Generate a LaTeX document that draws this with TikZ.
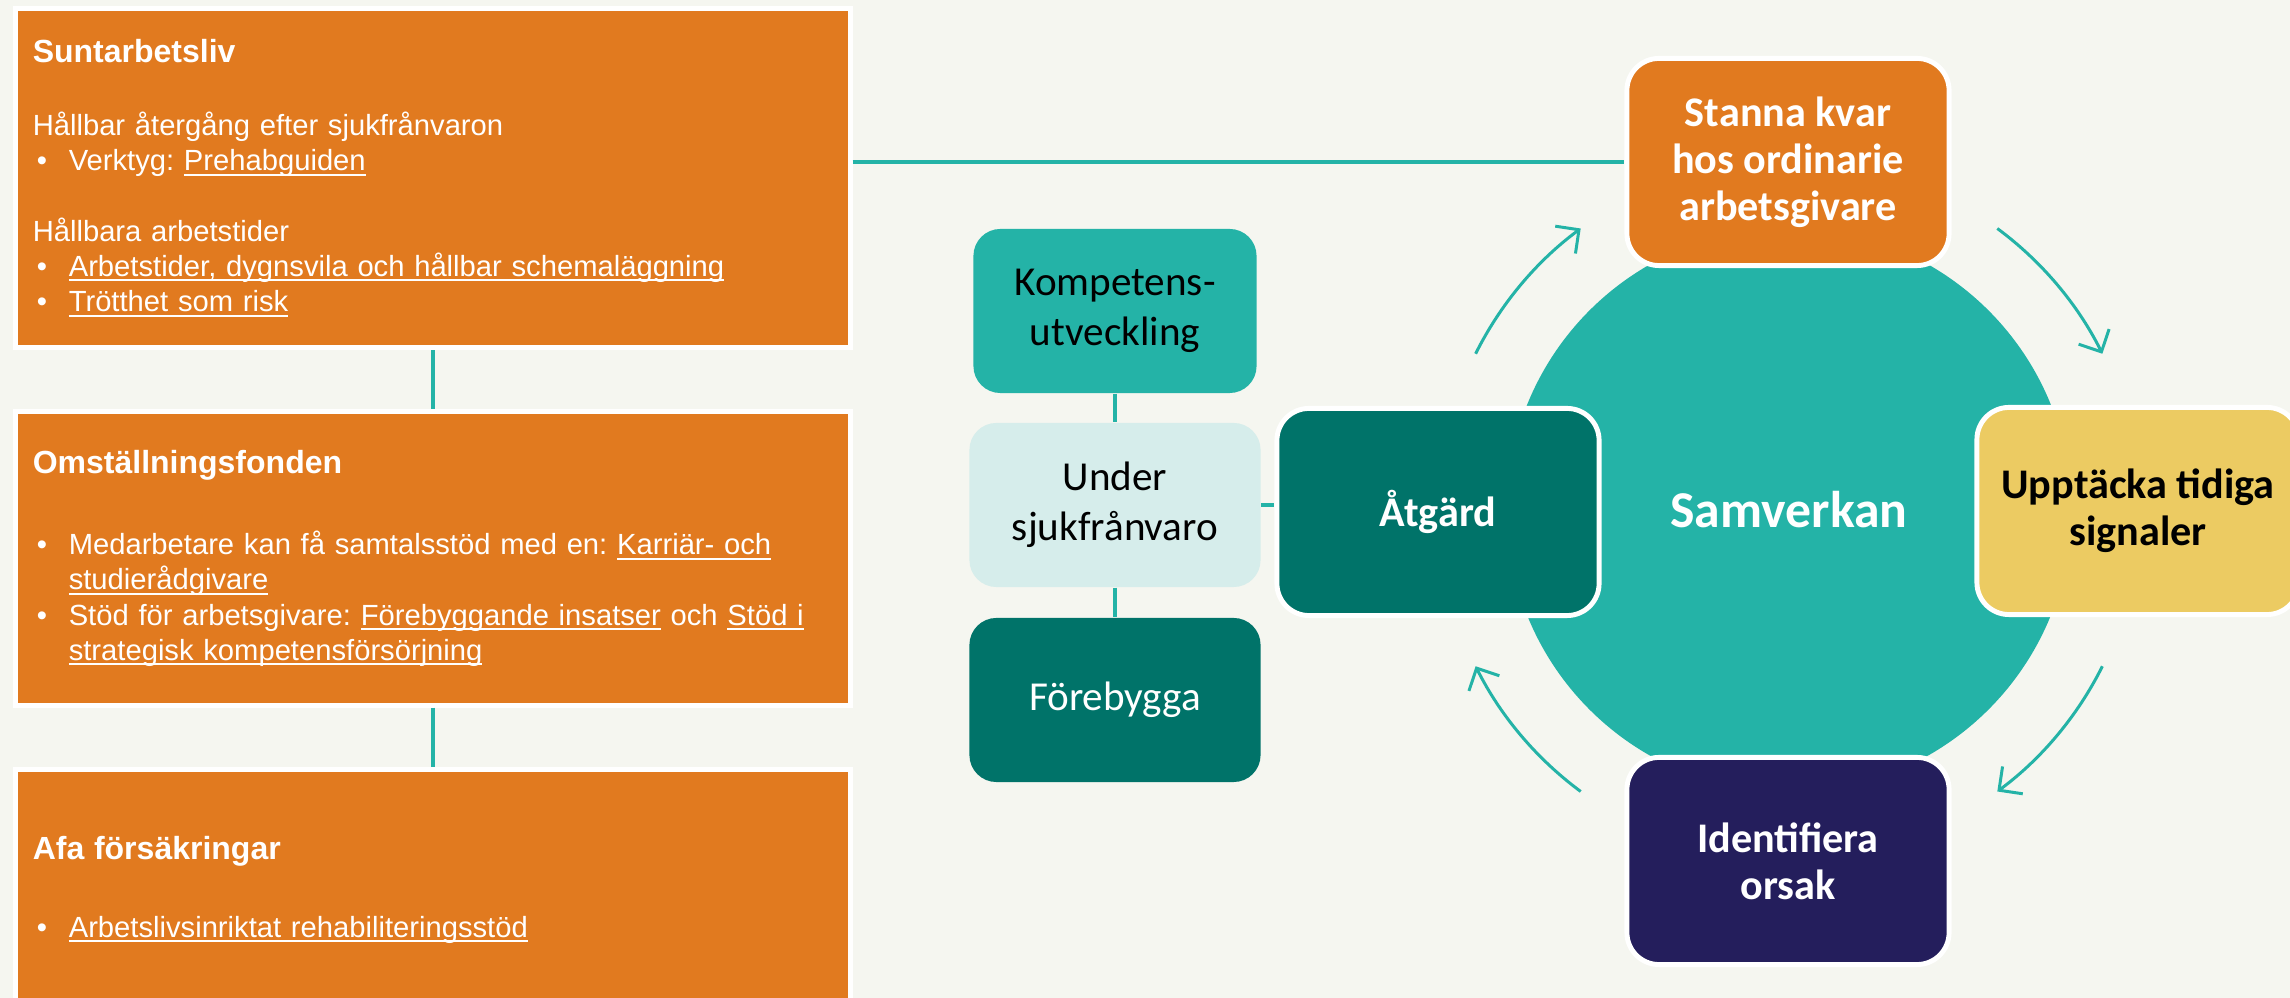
\documentclass[tikz,border=0pt]{standalone}
\usepackage{fontspec}
\setmainfont{Liberation Sans}
\newfontfamily\calibri{Carlito}
\usetikzlibrary{arrows.meta}
\frenchspacing

\definecolor{bgcol}{HTML}{F5F6F0}
\definecolor{boxorange}{HTML}{E17A1F}
\definecolor{circteal}{HTML}{24B3A7}
\definecolor{darkteal}{HTML}{007369}
\definecolor{paleteal}{HTML}{D6EDEB}
\definecolor{signalyellow}{HTML}{ECCB62}
\definecolor{navyblue}{HTML}{241E5C}

% underlined link text
\newcommand{\lnk}[1]{{\setbox0\hbox{#1}\rlap{\rule[-1.4pt]{\wd0}{0.55pt}}\box0}}
\newcommand{\itm}{\hspace*{0.04cm}\makebox[0.32cm][l]{\textbullet}}
\newcommand{\cnt}{\hspace*{0.36cm}}
\newcommand{\hd}[1]{{\fontsize{9.1}{10}\selectfont\bfseries #1}}

\begin{document}
\begin{tikzpicture}[x=0.01cm,y=-0.01cm,
    infobox/.style={rectangle,fill=boxorange,draw=white,line width=1.4pt,
        text=white,align=left,text width=8cm,inner xsep=0.17cm,
        minimum width=8.34cm,font=\fontsize{8.3}{10}\selectfont},
    phase/.style={rectangle,rounded corners=0.32cm,draw=white,line width=1.4pt,
        minimum width=3.22cm,minimum height=2.07cm,align=center,text=white,
        font=\calibri\bfseries\fontsize{12}{13.4}\selectfont},
    sidebox/.style={rectangle,rounded corners=0.27cm,minimum width=2.91cm,
        minimum height=1.64cm,align=center,
        font=\calibri\fontsize{11.7}{14.2}\selectfont},
    link/.style={draw=circteal,line width=1.4pt},
    cycarrow/.style={draw=circteal,line width=0.85pt,
        -{Straight Barb[length=0.17cm,width=0.34cm]}}]

\useasboundingbox[fill=bgcol] (0,0) rectangle (2290,998);

% left column
\node[infobox,minimum height=3.39cm](sun) at (433,178){%
\hd{Suntarbetsliv}\\[10.8pt]
Hållbar återgång efter sjukfrånvaron\\
\itm Verktyg: \lnk{Prehabguiden}\\[10pt]
Hållbara arbetstider\\
\itm\lnk{Arbetstider, dygnsvila och hållbar schemaläggning}\\
\itm\lnk{Trötthet som risk}};
\node[infobox,minimum height=2.93cm](omst) at (433,558.5){%
\hd{Omställningsfonden}\\[13pt]
\itm Medarbetare kan få samtalsstöd med en: \lnk{Karriär- och}\\
\cnt\lnk{studierådgivare}\\
\itm Stöd för arbetsgivare: \lnk{Förebyggande insatser} och \lnk{Stöd i}\\
\cnt\lnk{strategisk kompetensförsörjning}};
\node[infobox,minimum height=2.4cm](afa) at (433,890){%
\hd{Afa försäkringar}\\[12pt]
\itm\lnk{Arbetslivsinriktat rehabiliteringsstöd}};

\draw[link](sun.south)--(omst.north);
\draw[link](omst.south)--(afa.north);

% cycle
\node[circle,fill=circteal,minimum size=5.64cm,inner sep=0,text=white,
    font=\calibri\bfseries\fontsize{14.7}{16}\selectfont](samv) at (1789,510){Samverkan};

\node[phase,fill=boxorange](stanna) at (1788,162){Stanna kvar\\hos ordinarie\\arbetsgivare};
\node[phase,fill=signalyellow,text=black](upptacka) at (2138,511){Upptäcka tidiga\\signaler};
\node[phase,fill=navyblue](ident) at (1788,861){Identifiera\\orsak};
\node[phase,fill=darkteal](atgard) at (1438,512){Åtgärd};

\foreach \a in {153.5,53.5,-26.5,233.5}
    \draw[cycarrow]([shift={(\a:3.5cm)}]samv.center) arc[start angle=\a,end angle=\a-27,radius=3.5cm];

% side boxes
\node[sidebox,fill=circteal,minimum width=2.83cm](komp) at (1115,311){Kompetens-\\utveckling};
\node[sidebox,fill=paleteal](under) at (1115,505){Under\\sjukfrånvaro};
\node[sidebox,fill=darkteal,text=white](forebygga) at (1115,700){Förebygga};

\draw[link](komp.south)--(under.north);
\draw[link](under.south)--(forebygga.north);
\draw[link](under.east)--(under.east -| atgard.west);
\draw[link](sun.east |- stanna.west)--(stanna.west);

\end{tikzpicture}
\end{document}
